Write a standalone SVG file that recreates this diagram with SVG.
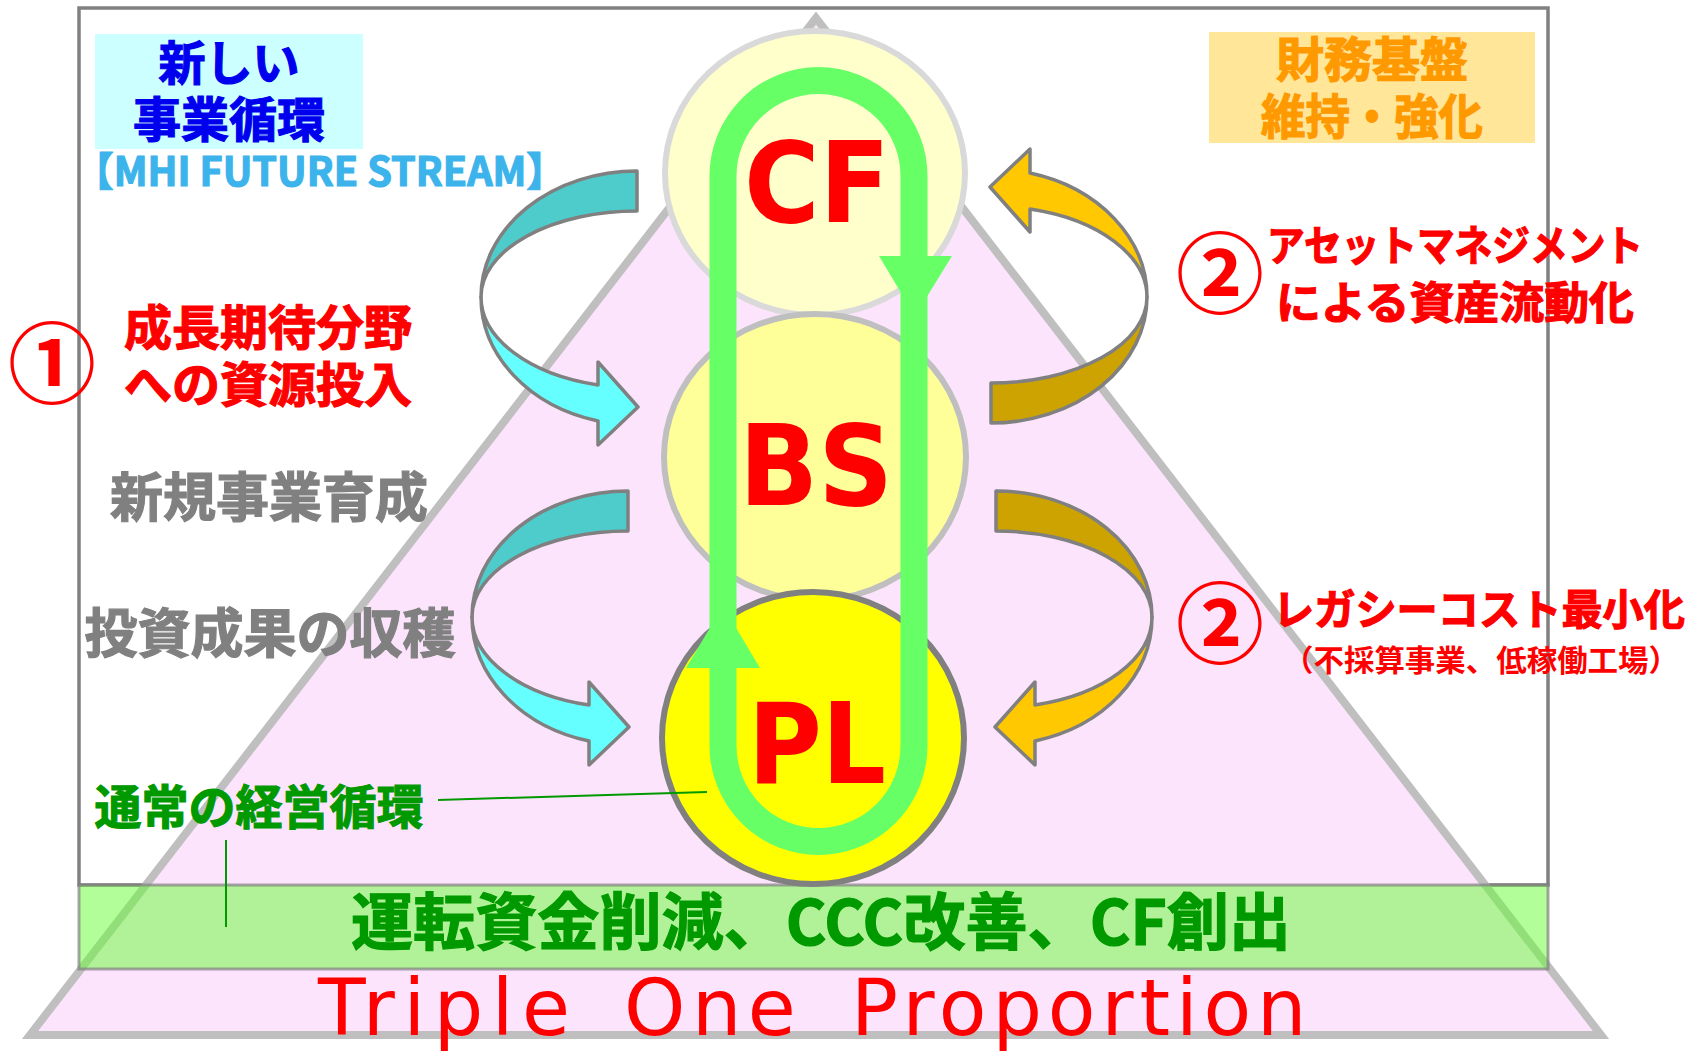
<svg xmlns="http://www.w3.org/2000/svg" xmlns:xlink="http://www.w3.org/1999/xlink" width="1702" height="1051" viewBox="0 0 1702 1051">
<style>
.jp{font-family:"Noto Sans CJK JP","Noto Sans",sans-serif;font-weight:700}
.heavy{stroke-width:1.2;paint-order:stroke}
.big{font-family:"DejaVu Sans","Verdana",sans-serif;font-weight:700;fill:#ff0000;font-size:112px}
.band{stroke:#808080;stroke-width:3.5;stroke-linejoin:round}
.loop{fill:none;stroke:#66ff66;stroke-width:27}
.conn{stroke:#009900;stroke-width:2;fill:none}
</style>
<defs>
<g id="ribbon">
<path class="band" fill="currentColor" d="M637,171 A156,126 0 0 0 481,297 A156,86 0 0 1 637,211 Z"/>
<path class="band" d="M481,297 A156,128 0 0 0 598,421 L598,445 L638,407 L598,362 L598,385 A156,91 0 0 1 481,297 Z"/>
</g>
</defs>
<rect width="1702" height="1051" fill="#ffffff"/>
<g id="frame">
<rect x="79" y="8" width="1469" height="877" fill="none" stroke="#808080" stroke-width="3.5"/>
</g>
<g id="pyramid">
<polygon points="816,18 30,1035 1601,1035" fill="#fde4fd" stroke="#bfbfbf" stroke-width="8" stroke-linejoin="miter"/>
</g>
<g id="band-box">
<rect x="79" y="885" width="1469" height="84" fill="#66ff33" fill-opacity="0.5" stroke="#808080" stroke-opacity="0.7" stroke-width="3"/>
<text class="jp heavy" x="821" y="945" font-size="62" fill="#009900" stroke="#009900" text-anchor="middle" textLength="940" lengthAdjust="spacingAndGlyphs">運転資金削減、CCC改善、CF創出</text>
</g>
<g id="title-bottom">
<text y="1035" font-family="DejaVu Sans,Verdana,sans-serif" font-size="78" fill="#ff0000"><tspan x="318" letter-spacing="8.6">Triple</tspan> <tspan x="624" letter-spacing="6.5">One</tspan> <tspan x="851" letter-spacing="5.9">Proportion</tspan></text>
</g>
<g id="new-cycle">
<rect x="95" y="34" width="268" height="115" fill="#ccffff"/>
<text class="jp heavy" x="229" y="80" font-size="47" fill="#0000ee" stroke="#0000ee" text-anchor="middle">新しい</text>
<text class="jp heavy" x="229" y="137" font-size="48" fill="#0000ee" stroke="#0000ee" text-anchor="middle">事業循環</text>
<text class="jp heavy" x="320" y="186" font-size="40" fill="#3cb4eb" stroke="#3cb4eb" text-anchor="middle" textLength="492" lengthAdjust="spacingAndGlyphs">【MHI FUTURE STREAM】</text>
</g>
<g id="finance">
<rect x="1209" y="32" width="326" height="111" fill="#ffe699"/>
<text class="jp heavy" x="1372" y="77" font-size="48" fill="#ff9900" stroke="#ff9900" text-anchor="middle">財務基盤</text>
<text class="jp heavy" x="1372" y="134" font-size="48" fill="#ff9900" stroke="#ff9900" text-anchor="middle" textLength="222" lengthAdjust="spacingAndGlyphs">維持・強化</text>
</g>
<g id="label-1">
<text class="jp" x="52" y="396" font-size="88" fill="#ff0000" text-anchor="middle">①</text>
<text class="jp heavy" x="268" y="345" font-size="48" fill="#ff0000" stroke="#ff0000" text-anchor="middle">成長期待分野</text>
<text class="jp heavy" x="268" y="402" font-size="48" fill="#ff0000" stroke="#ff0000" text-anchor="middle">への資源投入</text>
</g>
<g id="label-new-business">
<text class="jp heavy" x="269" y="517" font-size="53" fill="#808080" stroke="#808080" text-anchor="middle">新規事業育成</text>
</g>
<g id="label-harvest">
<text class="jp heavy" x="270" y="653" font-size="53" fill="#808080" stroke="#808080" text-anchor="middle">投資成果の収穫</text>
</g>
<g id="label-normal">
<text class="jp heavy" x="259" y="824" font-size="47" fill="#009900" stroke="#009900" text-anchor="middle">通常の経営循環</text>
</g>
<g id="label-2a">
<text class="jp" x="1220" y="306" font-size="88" fill="#ff0000" text-anchor="middle">②</text>
<text class="jp heavy" x="1267" y="261" font-size="42" fill="#ff0000" stroke="#ff0000" textLength="376" lengthAdjust="spacingAndGlyphs">アセットマネジメント</text>
<text class="jp heavy" x="1276" y="319" font-size="44" fill="#ff0000" stroke="#ff0000" textLength="358" lengthAdjust="spacingAndGlyphs">による資産流動化</text>
</g>
<g id="label-2b">
<text class="jp" x="1220" y="656" font-size="88" fill="#ff0000" text-anchor="middle">②</text>
<text class="jp heavy" x="1273" y="625" font-size="42" fill="#ff0000" stroke="#ff0000" textLength="412" lengthAdjust="spacingAndGlyphs">レガシーコスト最小化</text>
<text class="jp" x="1481" y="671" font-size="30" fill="#ff0000" text-anchor="middle" textLength="396" lengthAdjust="spacingAndGlyphs">（不採算事業、低稼働工場）</text>
</g>
<g id="arrow-teal-1">
<use xlink:href="#ribbon" href="#ribbon" fill="#66ffff" color="#4ecbcb"/>
</g>
<g id="arrow-teal-2">
<use xlink:href="#ribbon" href="#ribbon" fill="#66ffff" color="#4ecbcb" transform="translate(-9,320)"/>
</g>
<g id="arrow-gold-1">
<use xlink:href="#ribbon" href="#ribbon" fill="#ffc800" color="#cca300" transform="rotate(180 814 297)"/>
</g>
<g id="arrow-gold-2">
<use xlink:href="#ribbon" href="#ribbon" fill="#ffc800" color="#cca300" transform="translate(1624,0) scale(-1,1) translate(-9,320)"/>
</g>
<g id="node-cf">
<ellipse cx="815" cy="173" rx="150" ry="142" fill="#ffffcc" stroke="#d9d9d9" stroke-width="6"/>
</g>
<g id="node-bs">
<ellipse cx="815" cy="457" rx="151" ry="143" fill="#ffff99" stroke="#bfbfbf" stroke-width="6"/>
</g>
<g id="node-pl">
<ellipse cx="813" cy="738" rx="151" ry="146" fill="#ffff00" stroke="#808080" stroke-width="6"/>
</g>
<g id="connectors">
<path class="loop" d="M723,746 L723,176 A95.5,95.5 0 0 1 914,176 L914,746 A95.5,95.5 0 0 1 723,746 Z"/>
<polygon points="879,256 952,256 915,316" fill="#66ff66"/>
<polygon points="686,668 760,668 723,606" fill="#66ff66"/>
<line class="conn" x1="438" y1="800" x2="707" y2="792"/>
<line class="conn" x1="226" y1="840" x2="226" y2="927"/>
</g>
<g id="node-labels">
<text class="big" x="817" y="222" text-anchor="middle" textLength="146" lengthAdjust="spacingAndGlyphs">CF</text>
<text class="big" x="816" y="505" text-anchor="middle" textLength="154" lengthAdjust="spacingAndGlyphs">BS</text>
<text class="big" x="817" y="783" text-anchor="middle" textLength="138" lengthAdjust="spacingAndGlyphs">PL</text>
</g>
</svg>
